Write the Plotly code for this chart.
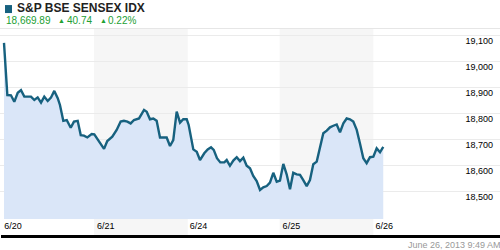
import plotly.graph_objects as go

# ---- data ----
day_labels = ["6/20", "6/21", "6/24", "6/25", "6/26"]
shaded_days = [1, 3]
y_ticks = [18500, 18600, 18700, 18800, 18900, 19000, 19100]

# time in trading-day units (0 = open of 6/20)
t = [0.000, 0.036, 0.075, 0.111, 0.148, 0.183, 0.219, 0.291, 0.327, 0.363,
     0.399, 0.434, 0.471, 0.506, 0.542, 0.579, 0.603, 0.639, 0.676, 0.719,
     0.754, 0.794, 0.827, 0.862, 0.898, 0.945, 0.973, 1.024, 1.078, 1.113,
     1.167, 1.214, 1.257, 1.293, 1.329, 1.365, 1.401, 1.455, 1.509, 1.538,
     1.573, 1.609, 1.645, 1.681, 1.724, 1.753, 1.789, 1.824, 1.861, 1.897,
     1.932, 1.969, 1.990, 2.040, 2.077, 2.112, 2.158, 2.195, 2.231, 2.260,
     2.295, 2.331, 2.374, 2.400, 2.435, 2.471, 2.508, 2.543, 2.579, 2.615,
     2.651, 2.686, 2.723, 2.759, 2.794, 2.831, 2.866, 2.902, 2.939, 2.974,
     3.010, 3.046, 3.082, 3.117, 3.154, 3.190, 3.225, 3.262, 3.297, 3.333,
     3.370, 3.405, 3.441, 3.478, 3.513, 3.549, 3.585, 3.621, 3.657, 3.693,
     3.728, 3.764, 3.801, 3.836, 3.872, 3.908, 3.944, 3.980, 4.016, 4.052,
     4.087]
price = [19070, 18869, 18868, 18843, 18878, 18888, 18863, 18863, 18850, 18860,
         18840, 18863, 18846, 18859, 18885, 18857, 18831, 18770, 18773, 18743,
         18767, 18770, 18715, 18713, 18706, 18719, 18718, 18690, 18662, 18692,
         18709, 18735, 18767, 18770, 18767, 18760, 18773, 18779, 18812, 18805,
         18776, 18779, 18770, 18706, 18706, 18706, 18673, 18696, 18805, 18763,
         18776, 18776, 18754, 18660, 18651, 18619, 18645, 18660, 18668, 18658,
         18626, 18610, 18610, 18619, 18597, 18617, 18630, 18615, 18628, 18597,
         18587, 18558, 18538, 18504, 18514, 18519, 18532, 18570, 18536, 18540,
         18604, 18564, 18507, 18570, 18564, 18562, 18542, 18519, 18542, 18603,
         18613, 18670, 18722, 18732, 18745, 18751, 18756, 18726, 18760, 18779,
         18776, 18767, 18735, 18683, 18626, 18607, 18630, 18632, 18664, 18649,
         18669.89]

title = "S&P BSE SENSEX IDX"
last_value = "18,669.89"
change = "40.74"
change_pct = "0.22%"
timestamp = "June 26, 2013 9:49 AM"

LINE = "#17617f"
FILL = "#dae6f8"
GREEN = "#22a033"
FONT = "Liberation Sans, Arial, sans-serif"

fig = go.Figure()
fig.add_trace(go.Scatter(
    x=t, y=price, mode="lines", fill="tozeroy", fillcolor=FILL,
    line=dict(color=LINE, width=2.4), hoverinfo="skip", showlegend=False,
))

shapes = []
for d in shaded_days:
    shapes.append(dict(type="rect", xref="x", yref="paper", x0=d - 0.03, x1=d + 1 - 0.02,
                       y0=-0.084, y1=1, fillcolor="#f6f6f6", line_width=0, layer="below"))
# header square
shapes.append(dict(type="rect", xref="paper", yref="paper", x0=0.010, x1=0.024, y0=1.084, y1=1.126,
                   fillcolor=LINE, line_width=0))

annotations = [
    dict(text="<b>" + title.replace("&", "&amp;") + "</b>", xref="paper", yref="paper", x=0.030, y=1.108,
         xanchor="left", yanchor="middle", showarrow=False, font=dict(family=FONT, size=12, color="#222222")),
    dict(text=last_value, xref="paper", yref="paper", x=0.008, y=1.047, xanchor="left", yanchor="middle",
         showarrow=False, font=dict(family=FONT, size=10, color=GREEN)),
    dict(text="▲", xref="paper", yref="paper", x=0.112, y=1.047, xanchor="left", yanchor="middle",
         showarrow=False, font=dict(family=FONT, size=7, color=GREEN)),
    dict(text=change, xref="paper", yref="paper", x=0.130, y=1.047, xanchor="left", yanchor="middle",
         showarrow=False, font=dict(family=FONT, size=10, color=GREEN)),
    dict(text="▲", xref="paper", yref="paper", x=0.196, y=1.047, xanchor="left", yanchor="middle",
         showarrow=False, font=dict(family=FONT, size=7, color=GREEN)),
    dict(text=change_pct, xref="paper", yref="paper", x=0.212, y=1.047, xanchor="left", yanchor="middle",
         showarrow=False, font=dict(family=FONT, size=10, color=GREEN)),
    dict(text=timestamp, xref="paper", yref="paper", x=1.0, xshift=3, y=-0.137, xanchor="right",
         yanchor="middle", showarrow=False, font=dict(family=FONT, size=9, color="#999999")),
    # bottom heavy rule (as a filled annotation box)
    dict(text=" ", xref="paper", yref="paper", x=0.002, y=-0.0947, xanchor="left", yanchor="middle",
         width=499, height=2.5, bgcolor="#000000", borderpad=0, borderwidth=0, showarrow=False,
         font=dict(size=1)),
    # top separator
    dict(text=" ", xref="paper", yref="paper", x=0, y=1.003, xanchor="left", yanchor="middle",
         width=500, height=1, bgcolor="#e6e6e6", borderpad=0, borderwidth=0, showarrow=False,
         font=dict(size=1)),
]

fig.update_layout(
    width=500, height=250,
    margin=dict(l=0, r=0, t=29, b=31, pad=0),
    paper_bgcolor="white", plot_bgcolor="white",
    shapes=shapes, annotations=annotations,
    xaxis=dict(range=[-0.0431, 5.345], tickvals=list(range(len(day_labels))), ticktext=day_labels,
               showgrid=False, zeroline=False, ticks="", ticklabelshift=9,
               tickfont=dict(family=FONT, size=9, color="#000000"), fixedrange=True,
               automargin=False),
    yaxis=dict(range=[18392.3, 19123.1], tickvals=y_ticks, tickformat=",d", side="right",
               ticklabelposition="inside", ticks="", ticklabelshift=6, ticklabelstandoff=4,
               showgrid=True, gridcolor="#ebebeb", gridwidth=1, zeroline=False,
               tickfont=dict(family=FONT, size=9, color="#000000"), fixedrange=True,
               automargin=False),
)

fig.write_html("out.html")
